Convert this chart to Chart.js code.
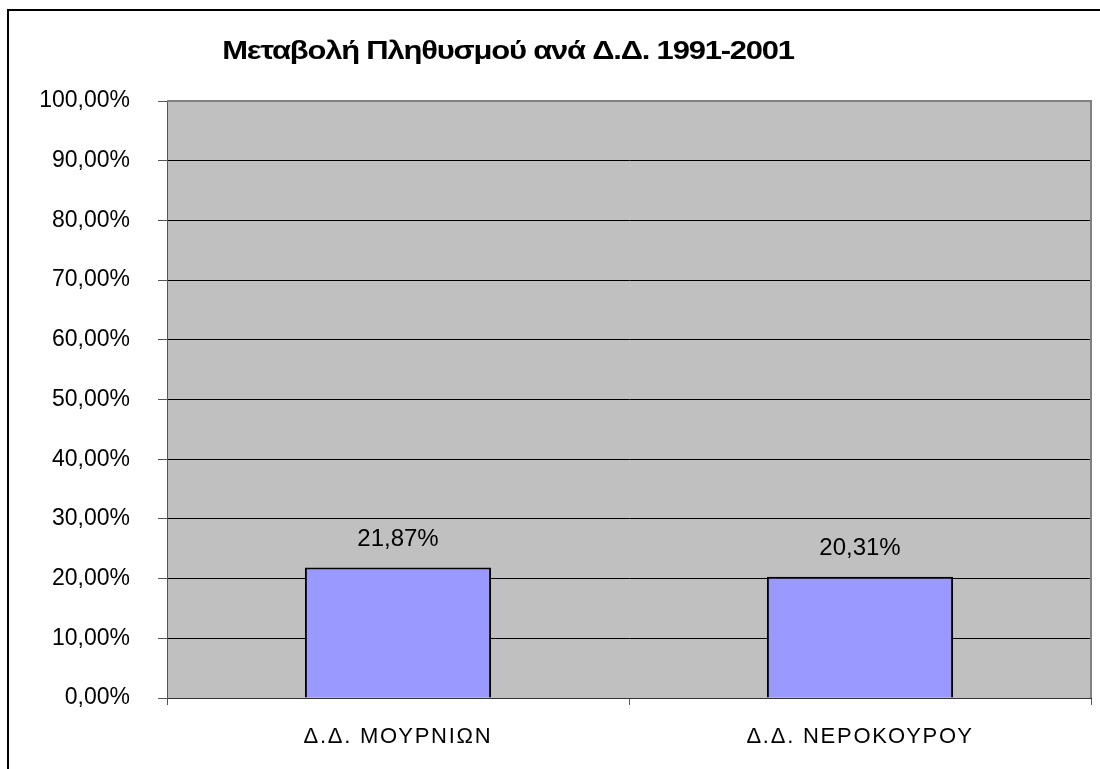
<!DOCTYPE html>
<html>
<head>
<meta charset="utf-8">
<title>Μεταβολή Πληθυσμού ανά Δ.Δ. 1991-2001</title>
<script src="https://cdn.jsdelivr.net/npm/chart.js"></script>
<style>
  body { margin: 0; background: #fff; }
  #myChart { display: block; }
</style>
</head>
<body>
<canvas id="myChart" width="1100" height="769"></canvas>
<script>
const chartTitle = 'Μεταβολή Πληθυσμού ανά Δ.Δ. 1991-2001';
const categories = ['Δ.Δ. ΜΟΥΡΝΙΩΝ', 'Δ.Δ. ΝΕΡΟΚΟΥΡΟΥ'];
const changeValues = [21.87, 20.31];
const yMin = 0;
const yMax = 100;
const yStep = 10;

function pct(v) {
  return v.toFixed(2).replace('.', ',') + '%';
}

Chart.defaults.font.family = '"Liberation Sans", Arial, sans-serif';
Chart.defaults.color = '#000';

// the original is a stretched Excel picture, so x labels get a bit of spacing
function spaceLabels(scale, spacing) {
  if (scale._spaced) return;
  const orig = scale.drawLabels;
  scale.drawLabels = function(area) {
    this.ctx.save();
    this.ctx.letterSpacing = spacing;
    orig.call(this, area);
    this.ctx.restore();
  };
  scale._spaced = true;
}

// grey plot area, outer frame, title and value labels
const excelLook = {
  id: 'excelLook',
  beforeDraw(chart) {
    const ctx = chart.ctx;
    const a = chart.chartArea;
    ctx.save();
    ctx.fillStyle = '#c0c0c0';
    ctx.fillRect(a.left, a.top, a.right - a.left, a.bottom - a.top);
    ctx.fillStyle = '#000';
    ctx.fillRect(7, 9, chart.width - 7, 2);
    ctx.fillRect(7, 9, 2, chart.height - 9);
    ctx.restore();
  },
  afterDatasetsDraw(chart) {
    const ctx = chart.ctx;
    const meta = chart.getDatasetMeta(0);
    ctx.save();
    ctx.font = '24px "Liberation Sans", Arial, sans-serif';
    ctx.fillStyle = '#000';
    ctx.textAlign = 'center';
    ctx.textBaseline = 'middle';
    meta.data.forEach(function(bar, i) {
      ctx.fillText(pct(changeValues[i]), bar.x, bar.y - 28);
    });
    ctx.restore();
  },
  afterDraw(chart) {
    const ctx = chart.ctx;
    const a = chart.chartArea;
    ctx.save();
    ctx.strokeStyle = '#808080';
    ctx.lineWidth = 2;
    ctx.beginPath();
    ctx.moveTo(a.left, a.top);
    ctx.lineTo(a.right, a.top);
    ctx.lineTo(a.right, a.bottom);
    ctx.stroke();
    ctx.restore();

    // title: tight and stretched sideways like the Excel original
    ctx.save();
    ctx.font = 'bold 26px "Liberation Sans", Arial, sans-serif';
    ctx.letterSpacing = '-1px';
    ctx.fillStyle = '#000';
    ctx.textAlign = 'center';
    ctx.textBaseline = 'middle';
    ctx.translate(508, 52);
    ctx.scale(1.19, 1);
    ctx.fillText(chartTitle, 0, 0);
    ctx.restore();
  }
};

const ctx = document.getElementById('myChart');
new Chart(ctx, {
  type: 'bar',
  data: {
    labels: categories,
    datasets: [{
      data: changeValues,
      backgroundColor: '#9999ff',
      borderColor: '#000',
      borderWidth: 2,
      barPercentage: 0.403,
      categoryPercentage: 1
    }]
  },
  options: {
    responsive: false,
    animation: false,
    layout: { padding: { top: 101, left: 0, right: 9, bottom: 0 } },
    plugins: {
      legend: { display: false },
      tooltip: { enabled: false },
      title: { display: false }
    },
    scales: {
      x: {
        grid: {
          offset: true,
          drawOnChartArea: false,
          tickLength: 7,
          tickColor: '#555'
        },
        border: { color: '#333', width: 1 },
        ticks: {
          font: { size: 22 },
          color: '#000',
          padding: 19
        },
        afterFit(scale) { scale.height = 71; },
        afterUpdate(scale) { spaceLabels(scale, '1.75px'); }
      },
      y: {
        min: yMin,
        max: yMax,
        grid: {
          color: function(c) { return c.tick && c.tick.value === yMax ? '#808080' : '#000'; },
          tickColor: '#555',
          tickLength: 9
        },
        border: { color: '#555', width: 1 },
        ticks: {
          stepSize: yStep,
          font: { size: 23 },
          color: '#000',
          padding: 28,
          callback: function(v) { return pct(v); }
        },
        afterFit(scale) { scale.width = 167; }
      }
    }
  },
  plugins: [excelLook]
});
</script>
</body>
</html>
